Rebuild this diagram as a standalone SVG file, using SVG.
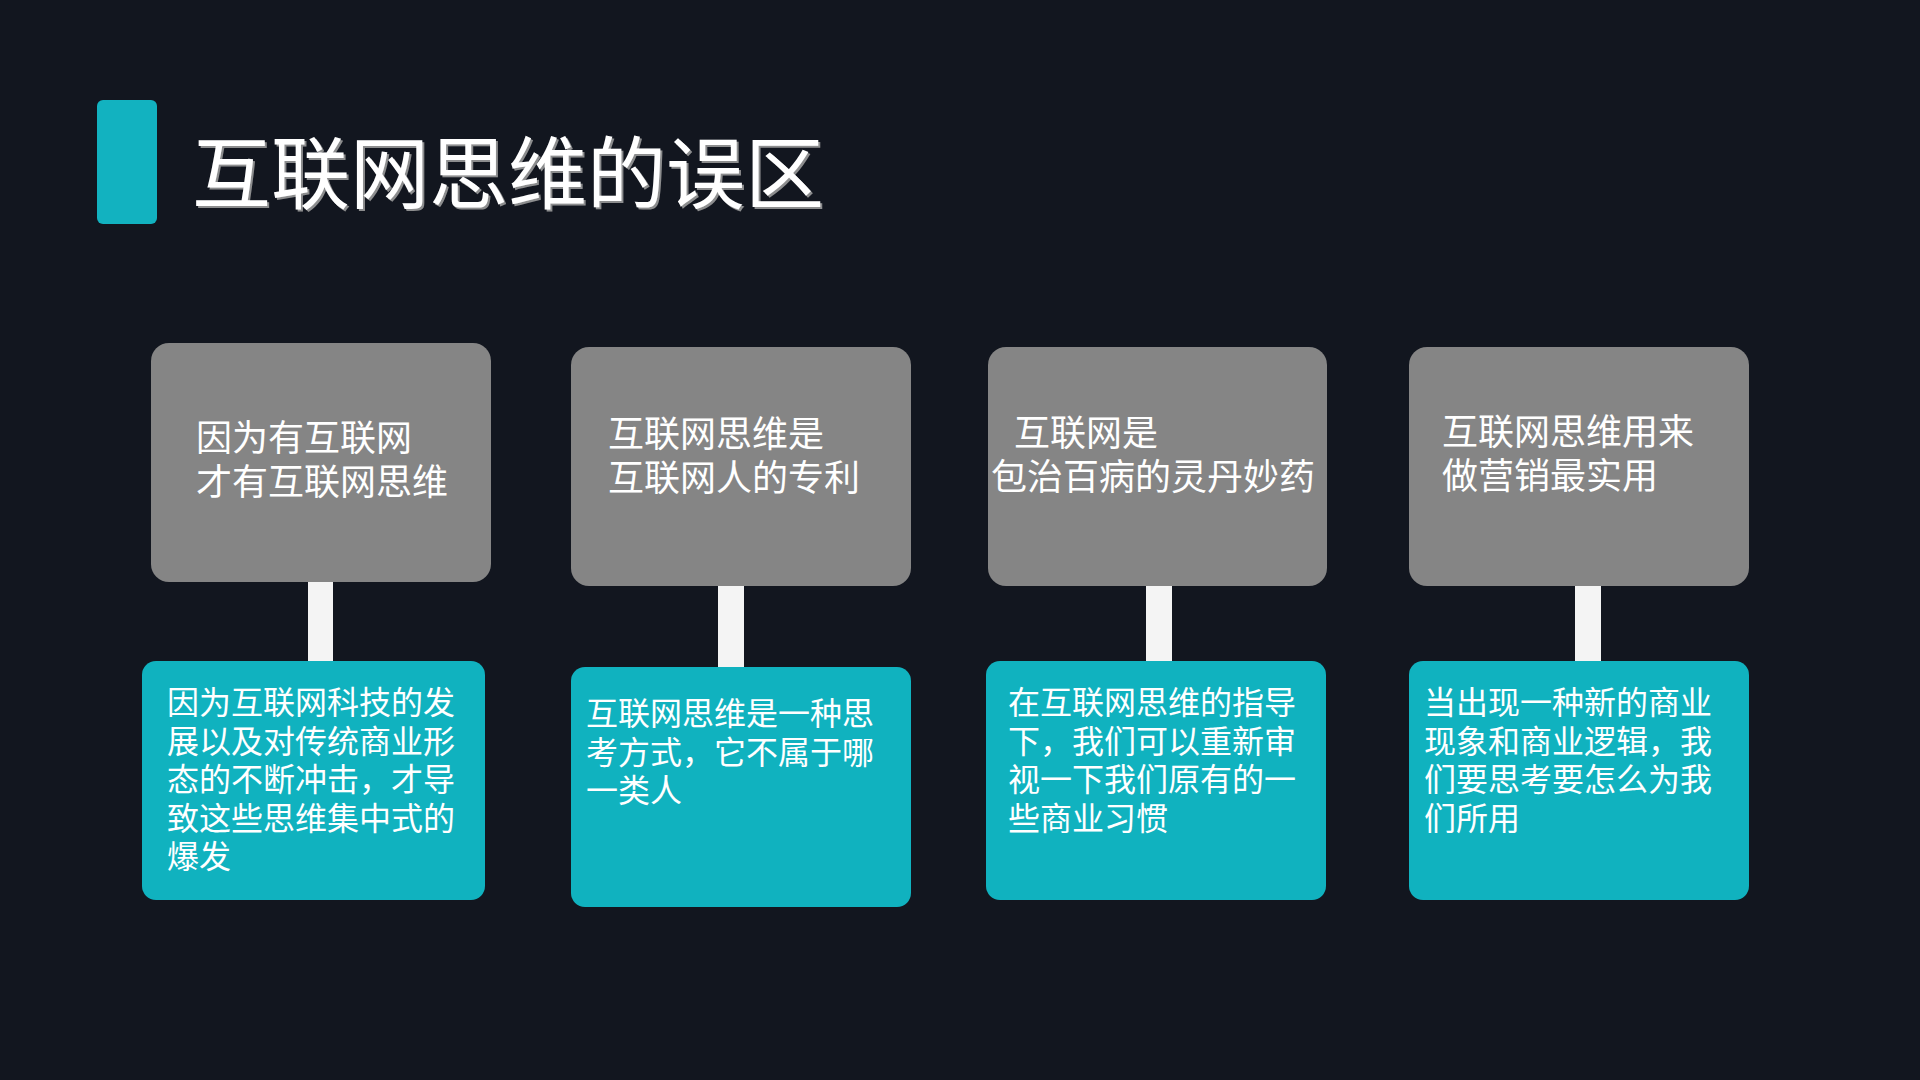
<svg xmlns="http://www.w3.org/2000/svg" width="1920" height="1080" viewBox="0 0 1920 1080">
  <defs>
    <style>
      .bg { fill: #12161f; }
      .accent { fill: #12b2c0; }
      .q { fill: #858585; }
      .a { fill: #10b2bf; }
      .stem { fill: #f4f4f4; }
      .title { font-family: "Noto Sans CJK SC", "Noto Sans", sans-serif; font-size: 79px; fill: #ffffff; }
      .qt { font-family: "Noto Sans CJK SC", "Noto Sans", sans-serif; font-size: 36px; fill: #ffffff; }
      .at { font-family: "Noto Sans CJK SC", "Noto Sans", sans-serif; font-size: 32px; fill: #ffffff; }
    </style>
    <filter id="tshadow" x="-5%" y="-10%" width="110%" height="130%">
      <feDropShadow dx="2" dy="2" stdDeviation="0.5" flood-color="#9a9a9a" flood-opacity="0.9"/>
    </filter>
  </defs>
  <rect class="bg" x="0" y="0" width="1920" height="1080"/>

  <g id="title">
    <rect class="accent" x="97" y="100" width="60" height="124" rx="6"/>
    <text class="title" x="192" y="203" filter="url(#tshadow)">互联网思维的误区</text>
  </g>

  <g id="connectors">
    <rect class="stem" x="308" y="582" width="25" height="79"/>
    <rect class="stem" x="718" y="586" width="26" height="81"/>
    <rect class="stem" x="1146" y="586" width="26" height="75"/>
    <rect class="stem" x="1575" y="586" width="26" height="75"/>
  </g>

  <g id="q1">
    <rect class="q" x="151" y="343" width="340" height="239" rx="18"/>
    <text class="qt"><tspan x="196" y="451">因为有互联网</tspan><tspan x="196" y="495">才有互联网思维</tspan></text>
  </g>
  <g id="q2">
    <rect class="q" x="571" y="347" width="340" height="239" rx="18"/>
    <text class="qt"><tspan x="608" y="447">互联网思维是</tspan><tspan x="608" y="491">互联网人的专利</tspan></text>
  </g>
  <g id="q3">
    <rect class="q" x="988" y="347" width="339" height="239" rx="18"/>
    <text class="qt"><tspan x="1014" y="446">互联网是</tspan><tspan x="991" y="490">包治百病的灵丹妙药</tspan></text>
  </g>
  <g id="q4">
    <rect class="q" x="1409" y="347" width="340" height="239" rx="18"/>
    <text class="qt"><tspan x="1442" y="445">互联网思维用来</tspan><tspan x="1442" y="489">做营销最实用</tspan></text>
  </g>

  <g id="a1">
    <rect class="a" x="142" y="661" width="343" height="239" rx="14"/>
    <text class="at"><tspan x="167" y="714">因为互联网科技的发</tspan><tspan x="167" y="752.5">展以及对传统商业形</tspan><tspan x="167" y="791">态的不断冲击，才导</tspan><tspan x="167" y="829.5">致这些思维集中式的</tspan><tspan x="167" y="868">爆发</tspan></text>
  </g>
  <g id="a2">
    <rect class="a" x="571" y="667" width="340" height="240" rx="14"/>
    <text class="at"><tspan x="586" y="725">互联网思维是一种思</tspan><tspan x="586" y="763.5">考方式，它不属于哪</tspan><tspan x="586" y="802">一类人</tspan></text>
  </g>
  <g id="a3">
    <rect class="a" x="986" y="661" width="340" height="239" rx="14"/>
    <text class="at"><tspan x="1008" y="714">在互联网思维的指导</tspan><tspan x="1008" y="752.5">下，我们可以重新审</tspan><tspan x="1008" y="791">视一下我们原有的一</tspan><tspan x="1008" y="829.5">些商业习惯</tspan></text>
  </g>
  <g id="a4">
    <rect class="a" x="1409" y="661" width="340" height="239" rx="14"/>
    <text class="at"><tspan x="1424" y="714">当出现一种新的商业</tspan><tspan x="1424" y="752.5">现象和商业逻辑，我</tspan><tspan x="1424" y="791">们要思考要怎么为我</tspan><tspan x="1424" y="829.5">们所用</tspan></text>
  </g>
</svg>
